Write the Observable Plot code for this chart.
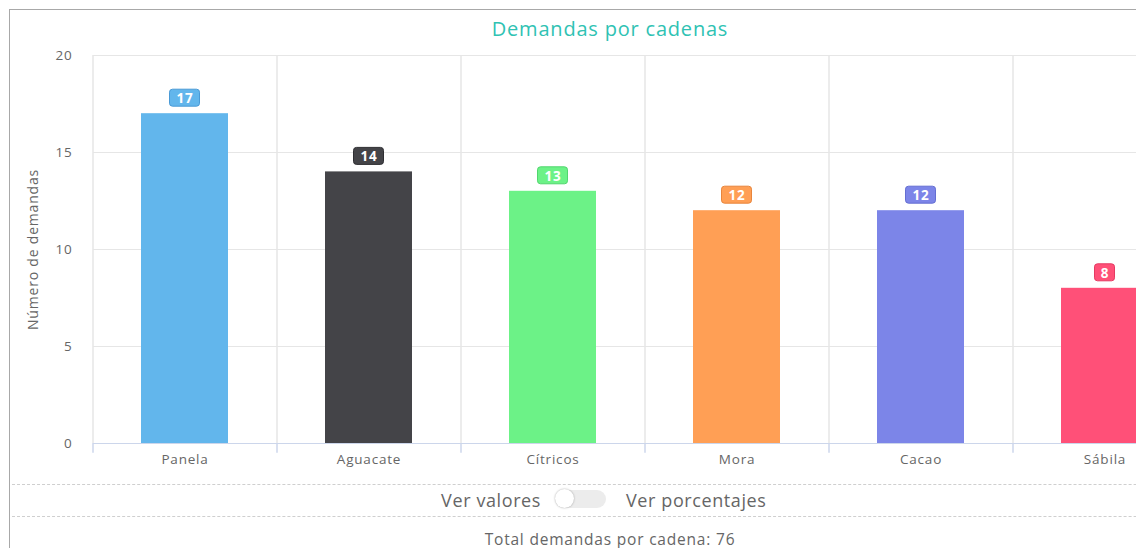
<!DOCTYPE html>
<html><head><meta charset="utf-8">
<script src="https://cdn.jsdelivr.net/npm/d3@7"></script>
<script src="https://cdn.jsdelivr.net/npm/@observablehq/plot@0.6"></script>
<style>
html,body{margin:0;padding:0;overflow:hidden;width:1136px;height:548px;background:#fff;font-family:"Open Sans",sans-serif;}
#frame{position:absolute;left:9px;top:9px;width:1400px;height:700px;border-left:1px solid #a8a8a8;border-top:1px solid #a8a8a8;}
#title{position:absolute;left:9px;width:1202px;top:15px;text-align:center;color:#2fc2b3;font-size:20px;letter-spacing:0.8px;font-family:"Open Sans",sans-serif;}
#chart{position:absolute;left:0;top:40px;width:1260px;}
#chart svg{max-width:none !important;}
.dash{position:absolute;left:12px;width:1400px;border-top:1px dashed #cfcfcf;height:0;}
.ctl{position:absolute;top:487px;font-size:18px;letter-spacing:0.6px;color:#666;line-height:26px;}
#toggle{position:absolute;left:555px;top:490px;width:51px;height:18px;border-radius:9px;background:#ececec;}
#knob{position:absolute;left:0;top:-1px;width:19px;height:19px;border-radius:50%;background:#fff;box-shadow:0 0 2px rgba(0,0,0,0.35);}
#total{position:absolute;left:9px;width:1202px;top:531px;height:16px;text-align:center;font-size:15.5px;line-height:16px;letter-spacing:0.8px;color:#666;}
</style>
</head>
<body>
<div id="frame"></div>
<div id="title">Demandas por cadenas</div>
<div id="chart"></div>
<div class="dash" style="top:484px"></div>
<div class="dash" style="top:516px"></div>
<div class="ctl" style="left:420px;width:121px;text-align:right">Ver valores</div>
<div id="toggle"><div id="knob"></div></div>
<div class="ctl" style="left:626px">Ver porcentajes</div>
<div id="total"></div>
<script>
const categories = ["Panela", "Aguacate", "Cítricos", "Mora", "Cacao", "Sábila"];
const values = [17, 14, 13, 12, 12, 8];
const colors = ["#62b6ec", "#444448", "#6cf287", "#ff9f55", "#7c85e8", "#ff5078"];
const borders = ["#4a9ad6", "#2e2e32", "#52d66e", "#e8853c", "#646ed2", "#e53a62"];
const yTicks = [0, 5, 10, 15, 20];
const yLabel = "Número de demandas";
const totalLabel = "Total demandas por cadena: ";

const data = categories.map((c, i) => ({cat: c, value: values[i], color: colors[i], border: borders[i], label: String(values[i])}));
const total = d3.sum(values);
document.getElementById("total").textContent = totalLabel + total;

const last = categories[categories.length - 1];
const two = data.filter(d => d.label.length > 1);
const one = data.filter(d => d.label.length === 1);

const chart = Plot.plot({
  width: 1260,
  height: 440,
  marginLeft: 93,
  marginRight: 63,
  marginTop: 15,
  marginBottom: 37,
  style: {fontFamily: "'Open Sans', sans-serif", fontSize: "12px", color: "#666", background: "transparent", overflow: "visible", maxWidth: "none", letterSpacing: "0.8px"},
  x: {domain: categories, paddingInner: 0.527, paddingOuter: 0.2635, label: null},
  y: {domain: [0, 20], ticks: yTicks, label: null},
  marks: [
    Plot.ruleY(yTicks.filter(t => t > 0), {stroke: "#e6e6e6"}),
    Plot.ruleX(categories, {x: d => d, y1: 0, y2: 20, dx: -92, stroke: "#e6e6e6", strokeWidth: 1.5}),
    Plot.ruleX([last], {x: d => d, y1: 0, y2: 20, dx: 92, stroke: "#e6e6e6", strokeWidth: 1.5}),
    Plot.ruleX(categories, {x: d => d, y1: 0, y2: -0.5, dx: -92, stroke: "#ccd6eb", strokeWidth: 1.5}),
    Plot.ruleX([last], {x: d => d, y1: 0, y2: -0.5, dx: 92, stroke: "#ccd6eb", strokeWidth: 1.5}),
    Plot.barY(data, {x: "cat", y: "value", fill: "color"}),
    Plot.ruleY([0], {stroke: "#ccd6eb"}),
    Plot.barY(two, {x: "cat", y1: "value", y2: "value", fill: "color", stroke: "border", strokeWidth: 1, rx: 3, insetTop: -24, insetBottom: 7, insetLeft: 28.5, insetRight: 28.5}),
    Plot.barY(one, {x: "cat", y1: "value", y2: "value", fill: "color", stroke: "border", strokeWidth: 1, rx: 3, insetTop: -24, insetBottom: 7, insetLeft: 33.5, insetRight: 33.5}),
    Plot.text(data, {x: "cat", y: "value", text: "label", dy: -15, fill: "white", fontWeight: "bold", fontSize: 13.5}),
    Plot.axisY({ticks: yTicks, tickSize: 0, tickPadding: 21, fontSize: 13.5, label: null, color: "#666"}),
    Plot.axisX({tickSize: 0, tickPadding: 11, fontSize: 13.5, label: null, color: "#666"}),
    Plot.text([yLabel], {frameAnchor: "left", textAnchor: "middle", rotate: -90, dx: -60, fill: "#666", fontSize: 14})
  ]
});
document.getElementById("chart").appendChild(chart);
</script>
</body></html>
